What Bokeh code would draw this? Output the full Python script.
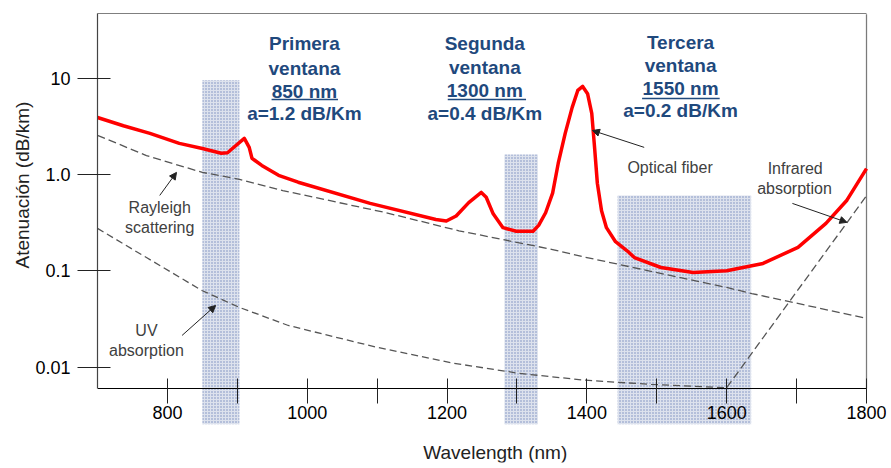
from bokeh.plotting import figure
from bokeh.models import (FixedTicker, LinearAxis, Arrow, NormalHead, Range1d, Title)
from bokeh.core.properties import value
from bokeh.embed import file_html
from bokeh.resources import INLINE

# ---------------- data ----------------
fiber_nm = [700, 737, 775, 817, 850, 877, 886, 893, 910, 917, 921, 935, 959, 987, 1090, 1184,
            1199, 1213, 1231, 1249, 1256, 1266, 1280, 1299, 1323, 1331, 1341, 1351, 1359, 1369,
            1379, 1387, 1394, 1401, 1407, 1411, 1415, 1421, 1428, 1441, 1458, 1468, 1506,
            1552, 1600, 1652, 1702, 1742, 1772, 1800]
fiber_db = [3.9, 3.2, 2.67, 2.10, 1.86, 1.66, 1.68, 1.86, 2.37, 1.91, 1.47, 1.24, 0.98, 0.83,
            0.50, 0.34, 0.328, 0.37, 0.51, 0.65, 0.58, 0.39, 0.28, 0.257, 0.257, 0.296, 0.40,
            0.64, 1.30, 2.67, 4.97, 7.45, 8.2, 6.9, 4.30, 1.91, 0.81, 0.42, 0.28, 0.20, 0.16,
            0.137, 0.108, 0.096, 0.10, 0.119, 0.175, 0.31, 0.54, 1.15]

rayleigh_nm = [700, 770, 850, 903, 965, 1113, 1217, 1351, 1398, 1600, 1636, 1800]
rayleigh_db = [2.55, 1.57, 1.05, 0.89, 0.68, 0.40, 0.26, 0.166, 0.138, 0.067, 0.058, 0.032]

uv_nm = [700, 770, 850, 903, 973, 1100, 1208, 1303, 1397, 1492, 1600]
uv_db = [0.275, 0.137, 0.062, 0.0416, 0.027, 0.016, 0.011, 0.0086, 0.0073, 0.0066, 0.0061]

ir_nm = [1600, 1800]
ir_db = [0.0061, 0.6]

window_left = [850, 1282, 1444]
window_right = [903, 1330, 1635]
window_top = [9.5, 1.61, 0.605]

x_ticks = [800, 900, 1000, 1100, 1200, 1300, 1400, 1500, 1600, 1700, 1800]
x_tick_labels = ["800", "", "1000", "", "1200", "", "1400", "", "1600", "", "1800"]
y_ticks = [0.01, 0.1, 1.0, 10.0]
y_tick_labels = ["0.01", "0.1", "1.0", "10"]

# window headings (blue, bold)
head_text = ["Primera", "ventana", "850 nm", "a=1.2 dB/Km",
             "Segunda", "ventana", "1300 nm", "a=0.4 dB/Km",
             "Tercera", "ventana", "1550 nm", "a=0.2 dB/Km"]
head_x = [996] * 4 + [1254] * 4 + [1534] * 4
head_y = [22.9, 12.6, 7.28, 4.30, 22.9, 12.8, 7.45, 4.30, 23.5, 13.55, 7.82, 4.62]
under_x0 = [949, 1201, 1479]
under_x1 = [1044, 1313, 1590]
under_y = [6.0, 6.0, 6.15]

# grey annotations
note_text = ["Rayleigh", "scattering", "UV", "absorption", "Optical fiber", "Infrared", "absorption"]
note_x = [789, 789, 770, 770, 1519, 1698, 1697]
note_y = [0.454, 0.28, 0.024, 0.0149, 1.18, 1.15, 0.716]

arrow_x0 = [789, 821, 1482, 1694]
arrow_y0 = [0.605, 0.0213, 1.91, 0.50]
arrow_x1 = [813, 869, 1408, 1772]
arrow_y1 = [1.05, 0.0436, 2.86, 0.318]

X_MIN, X_END = 700, 1800          # drawn axis extent
X_PAD = 28.6                      # room for the last tick label
BORDER_HALF = 0.9                 # half width of the right border, nm
Y_MIN, Y_MAX = 0.00102, 46.9      # plotting area (includes room below the axis)
Y_TOP = 46.0                      # top of the right-hand border line
Y_AXIS = 0.006                    # where the wavelength axis is drawn
SHADE_BOTTOM = 0.00254            # shaded windows run a little below the axis
X_TITLE, Y_TITLE = 1269, 0.00131  # position of the wavelength axis title

FONT = "Liberation Sans"
BLUE = "#1F497D"
GREY = "#404040"

p = figure(frame_width=789, frame_height=449,
           x_range=Range1d(X_MIN, X_END + X_PAD), y_range=Range1d(Y_MIN, Y_MAX),
           y_axis_type="log", output_backend="svg", toolbar_location=None,
           min_border_left=97, min_border_right=4, min_border_top=13, min_border_bottom=5,
           background_fill_color="white", border_fill_color="white")
p.outline_line_color = None
p.xgrid.visible = False
p.ygrid.visible = False

# shaded windows
p.quad(left=window_left, right=window_right, top=window_top,
       bottom=[SHADE_BOTTOM] * len(window_left),
       fill_color="#dde2ed", line_color=None,
       hatch_pattern="dot", hatch_color="#2f4f9f", hatch_scale=3, hatch_weight=1,
       hatch_alpha=0.6)

# right border of the plot box
p.quad(left=[X_END - BORDER_HALF], right=[X_END + BORDER_HALF], bottom=[Y_AXIS], top=[Y_TOP],
       fill_color="#7a7a7a", line_color=None)

# dashed loss mechanisms
p.line(rayleigh_nm, rayleigh_db, line_color="#555555", line_width=1.3, line_dash="8 4")
p.line(uv_nm, uv_db, line_color="#555555", line_width=1.3, line_dash="7 4")
p.line(ir_nm, ir_db, line_color="#555555", line_width=1.3, line_dash="8 4")

# optical fiber
p.line(fiber_nm, fiber_db, line_color="#ff0000", line_width=3.5, line_join="round")

# headings
p.text(x=head_x, y=head_y, text=head_text, text_align="center", text_baseline="middle",
       text_font=value(FONT), text_font_style="bold", text_font_size="19px",
       text_color=BLUE)
p.segment(x0=under_x0, x1=under_x1, y0=under_y, y1=under_y, line_color=BLUE, line_width=1.5)

p.text(x=note_x, y=note_y, text=note_text, text_align="center", text_baseline="middle",
       text_font=value(FONT), text_font_size="16px", text_color=GREY)

# wavelength axis title
p.text(x=[X_TITLE], y=[Y_TITLE], text=["Wavelength (nm)"], text_align="center",
       text_baseline="middle", text_font=value(FONT), text_font_size="19px",
       text_color="#222222")

for xs, ys, xe, ye in zip(arrow_x0, arrow_y0, arrow_x1, arrow_y1):
    p.add_layout(Arrow(end=NormalHead(size=7, fill_color="#222222", line_color="#222222"),
                       x_start=xs, y_start=ys, x_end=xe, y_end=ye,
                       line_color="#222222", line_width=1))

# bottom axis at fixed location
xa = p.xaxis[0]
xa.ticker = FixedTicker(ticks=x_ticks, minor_ticks=[])
xa.major_label_overrides = {t: l for t, l in zip(x_ticks, x_tick_labels)}
xa.fixed_location = Y_AXIS
xa.bounds = (X_MIN, X_END)
xa.axis_line_color = "black"
xa.axis_line_width = 1.2
xa.major_tick_line_color = "#222222"
xa.major_tick_in = 10
xa.major_tick_out = 15
xa.minor_tick_line_color = None
xa.major_label_text_font = FONT
xa.major_label_text_font_size = "18px"
xa.major_label_text_color = "black"
xa.major_label_standoff = 3

ya = p.yaxis[0]
ya.ticker = FixedTicker(ticks=y_ticks, minor_ticks=[])
ya.major_label_overrides = {t: l for t, l in zip(y_ticks, y_tick_labels)}
ya.bounds = (Y_AXIS, Y_MAX)
ya.axis_line_color = "#444444"
ya.axis_line_width = 1.2
ya.major_tick_line_color = "#222222"
ya.major_tick_in = 13
ya.major_tick_out = 20
ya.minor_tick_line_color = None
ya.major_label_text_font = FONT
ya.major_label_text_font_size = "18px"
ya.major_label_text_color = "black"
ya.major_label_standoff = 7

top = LinearAxis(ticker=FixedTicker(ticks=[], minor_ticks=[]), bounds=(X_MIN, X_END),
                 axis_line_color="#7f7f7f", axis_line_width=1.2,
                 major_tick_in=0, major_tick_out=0, minor_tick_in=0, minor_tick_out=0,
                 major_label_text_font_size="0px")
p.add_layout(top, "above")

# vertical axis title
p.add_layout(Title(text="Atenuación (dB/km)", align="left", offset=194,
                   text_font=FONT, text_font_size="19px", text_font_style="normal",
                   text_color="#222222", standoff=0), "left")

open("out.html", "w").write(file_html(p, INLINE))
